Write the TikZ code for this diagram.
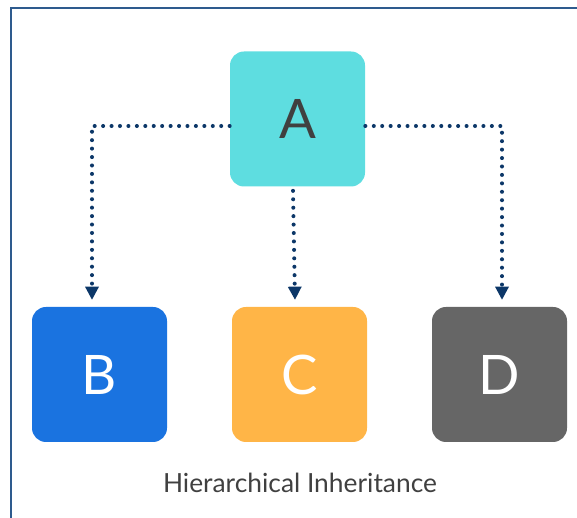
\documentclass[tikz,border=0pt]{standalone}
\usepackage{fontspec}
\setmainfont{Lato}
\usepackage{tikz}
\usetikzlibrary{arrows.meta, positioning, calc}
\usepackage{xcolor}

\definecolor{frameblue}{HTML}{2E5B8E}
\definecolor{linknavy}{HTML}{0C3768}
\definecolor{boxcyan}{HTML}{5EDDE0}
\definecolor{boxblue}{HTML}{1A73E0}
\definecolor{boxorange}{HTML}{FFB547}
\definecolor{boxgray}{HTML}{666666}
\definecolor{textgray}{HTML}{404040}

\tikzset{
	classbox/.style={rectangle, rounded corners=0.28cm, minimum width=2.7cm, minimum height=2.7cm,
		inner sep=0pt, font=\fontsize{31}{31}\selectfont},
	link/.style={draw=linknavy, line width=2.3pt, line cap=round, dash pattern=on 0pt off 4.8pt,
		-{Triangle[width=0.28cm, length=0.26cm, fill=linknavy, line width=0pt]}}
}

\begin{document}
\begin{tikzpicture}
			\useasboundingbox (0,0) rectangle (11.54,10.36);
			% --- Frame ---
			\draw[frameblue, line width=1.1pt] (0.22,-1) -- (0.22,10.2) -- (12,10.2);
			
			% --- Classes ---
			\node[classbox, fill=boxcyan, text=textgray] (A) at (5.95,7.98) {A};
			\node[classbox, fill=boxblue, text=white] (B) at (1.99,2.87) {B};
			\node[classbox, fill=boxorange, text=white] (C) at (5.99,2.87) {C};
			\node[classbox, fill=boxgray, text=white] (D) at (9.99,2.87) {D};
			
			% --- Links ---
			\draw[link] ([yshift=-0.14cm]A.west) -| ([xshift=-0.15cm, yshift=0.14cm]B.north);
			\draw[link] ([xshift=-0.09cm, yshift=-0.08cm]A.south) -- ([xshift=-0.09cm, yshift=0.14cm]C.north);
			\draw[link] ([yshift=-0.14cm]A.east) -| ([xshift=0.05cm, yshift=0.14cm]D.north);
			
			% --- Caption ---
			\node[text=textgray, font=\fontsize{15}{15}\selectfont] (caption) at (6.0,0.7) {Hierarchical Inheritance};
			
		\end{tikzpicture}
\end{document}
